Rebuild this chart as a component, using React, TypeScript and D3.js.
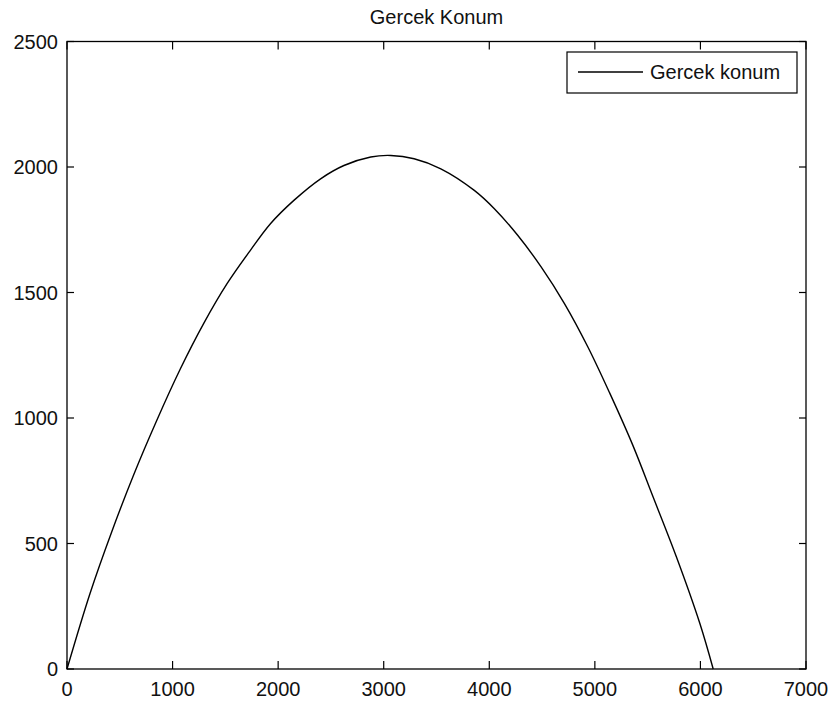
import React from "react";
import * as d3 from "d3";

// Trajectory samples: horizontal distance vs height
const posX = [0, 218, 424, 630, 851, 1073, 1294, 1516, 1737, 1927, 2149, 2402, 2623, 2877, 3067, 3288, 3541, 3858, 4048, 4269, 4491, 4712, 4934, 5140, 5361, 5551, 5772, 5994, 6121];
const posY = [0, 301, 547, 772, 991, 1195, 1376, 1535, 1668, 1774, 1867, 1953, 2006, 2040, 2046, 2033, 1993, 1907, 1834, 1728, 1602, 1456, 1283, 1100, 890, 686, 447, 182, 0];

const xTicks = [0, 1000, 2000, 3000, 4000, 5000, 6000, 7000];
const yTicks = [0, 500, 1000, 1500, 2000, 2500];

const chartTitle = "Gercek Konum";
const seriesName = "Gercek konum";

const W = 832;
const H = 708;
const left = 67;
const right = 806;
const top = 41.5;
const bottom = 669;
const font = "'Liberation Sans', Arial, Helvetica, sans-serif";

export default function App() {
  const x = d3.scaleLinear().domain([0, 7000]).range([left, right]);
  const y = d3.scaleLinear().domain([0, 2500]).range([bottom, top]);

  const pts: [number, number][] = posX.map((v, i) => [v, posY[i]]);
  const line = d3
    .line<[number, number]>()
    .x((d) => x(d[0]))
    .y((d) => y(d[1]))
    .curve(d3.curveCatmullRom.alpha(0.5));

  const tickLenX = 8;
  const tickLenY = 7;

  return (
    <svg
      width={W}
      height={H}
      viewBox={`0 0 ${W} ${H}`}
      style={{ position: "absolute", left: 0, top: 0, background: "#fff" }}
    >
      <rect x={0} y={0} width={W} height={H} fill="#fff" />
      {/* title */}
      <text
        x={(left + right) / 2}
        y={24}
        textAnchor="middle"
        fontFamily={font}
        fontSize={20}
        fill="#111"
      >
        {chartTitle}
      </text>

      {/* data line */}
      <path d={line(pts) || ""} fill="none" stroke="#000" strokeWidth={1.4} />

      {/* x ticks, bottom and top */}
      {xTicks.map((t) => (
        <g key={"xt" + t}>
          <line x1={x(t)} x2={x(t)} y1={bottom} y2={bottom - tickLenX} stroke="#000" strokeWidth={1.2} />
          <line x1={x(t)} x2={x(t)} y1={top} y2={top + tickLenX} stroke="#000" strokeWidth={1.2} />
          <text
            x={x(t)}
            y={696}
            textAnchor="middle"
            fontFamily={font}
            fontSize={20}
            fill="#111"
          >
            {t}
          </text>
        </g>
      ))}

      {/* y ticks, left and right */}
      {yTicks.map((t) => (
        <g key={"yt" + t}>
          <line x1={left} x2={left + tickLenY} y1={y(t)} y2={y(t)} stroke="#000" strokeWidth={1.2} />
          <line x1={right} x2={right - tickLenY} y1={y(t)} y2={y(t)} stroke="#000" strokeWidth={1.2} />
          <text
            x={58}
            y={y(t)}
            dy="0.36em"
            textAnchor="end"
            fontFamily={font}
            fontSize={20}
            fill="#111"
          >
            {t}
          </text>
        </g>
      ))}

      {/* axes box */}
      <rect
        x={left}
        y={top}
        width={right - left}
        height={bottom - top}
        fill="none"
        stroke="#000"
        strokeWidth={1.3}
      />

      {/* legend */}
      <g>
        <rect x={567} y={52} width={230} height={41} fill="#fff" stroke="#000" strokeWidth={1.2} />
        <line x1={578} x2={643} y1={72} y2={72} stroke="#000" strokeWidth={1.4} />
        <text x={650} y={72} dy="0.36em" fontFamily={font} fontSize={20} fill="#111">
          {seriesName}
        </text>
      </g>
    </svg>
  );
}
